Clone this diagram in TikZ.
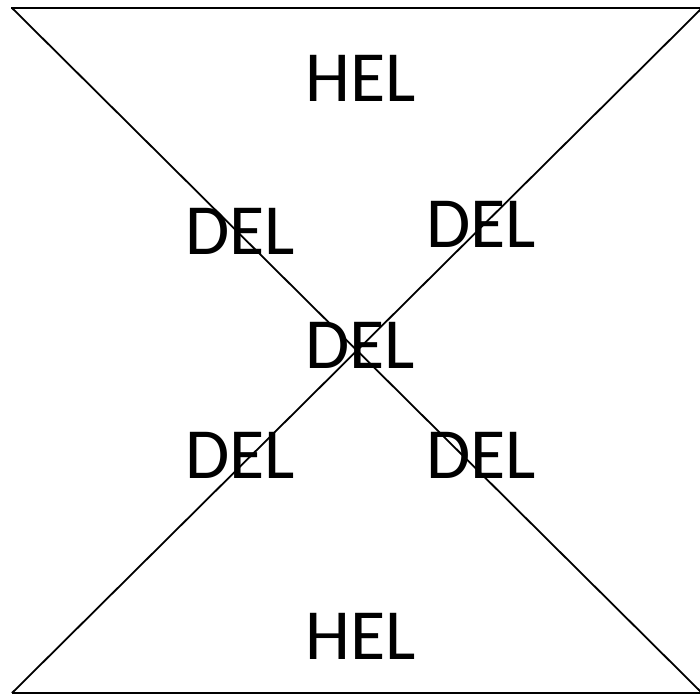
\documentclass[tikz,border=0pt]{standalone}
\usepackage{fontspec}
\setmainfont{Carlito}
\begin{document}
\begin{tikzpicture}[x=1pt,y=1pt,
  lbl/.style={inner sep=0pt,font=\fontsize{72}{86}\selectfont},
  edge/.style={line width=1.8pt}]
\useasboundingbox (0,0) rectangle (700,696);
\clip (0,0) rectangle (700,696);
\coordinate (tl) at (12,688);
\coordinate (tr) at (702,688);
\coordinate (bl) at (12,3);
\coordinate (br) at (702,3);
\draw[edge] (11,688) -- (tr);
\draw[edge] (bl) -- (br);
\draw[edge] (tl) -- (br);
\draw[edge] (tr) -- (bl);
\node[lbl] (h1) at (361,618) {HEL};
\node[lbl] (d1) at (240,465) {DEL};
\node[lbl] (d2) at (481,472) {DEL};
\node[lbl] (d0) at (360,351) {DEL};
\node[lbl] (d3) at (240,241) {DEL};
\node[lbl] (d4) at (481,241) {DEL};
\node[lbl] (h2) at (361,60) {HEL};
\end{tikzpicture}
\end{document}
